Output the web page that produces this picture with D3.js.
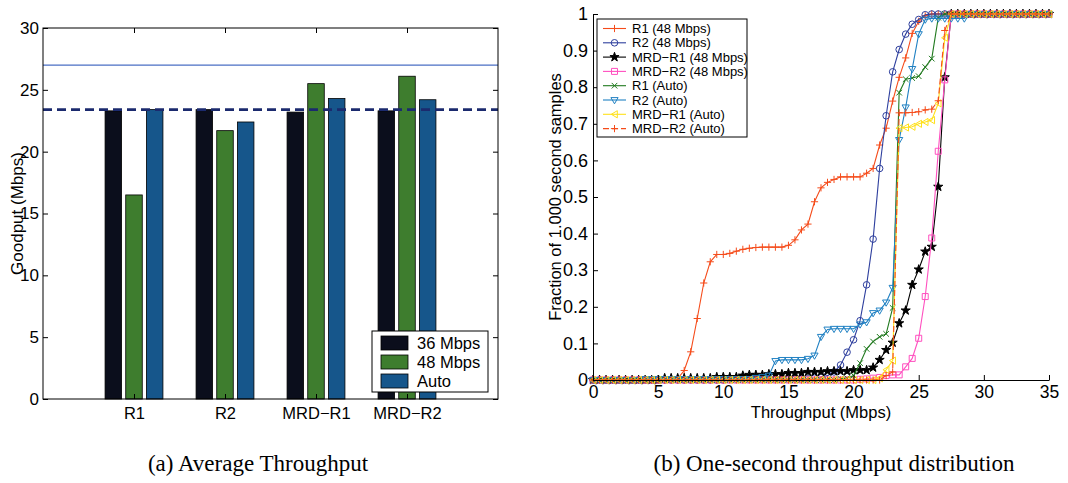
<!DOCTYPE html>
<html><head><meta charset="utf-8">
<script src="https://cdn.jsdelivr.net/npm/d3@7"></script>
<style>body{margin:0;background:#fff} svg{display:block}</style>
</head><body>
<svg id="c" width="1068" height="483"></svg>
<script>
// ---------- Data: (a) Average Throughput ----------
const categories = ["R1", "R2", "MRD\u2212R1", "MRD\u2212R2"];
const rateSeries = ["36 Mbps", "48 Mbps", "Auto"];
const goodput36 = [23.3, 23.4, 23.2, 23.3];
const goodput48 = [16.5, 21.7, 25.5, 26.1];
const goodputAuto = [23.4, 22.4, 24.3, 24.2];
const refSolid = [27.0];
const refDashed = [23.4];
const goodputTicks = [0, 5, 10, 15, 20, 25, 30];

// ---------- Data: (b) One-second throughput distribution ----------
const throughputGrid = d3.range(0, 35.5, 0.5); // 0, 0.5, ..., 35 sample points
const throughputTicks = [0, 5, 10, 15, 20, 25, 30, 35];
const fractionTicks = [0, 0.1, 0.2, 0.3, 0.4, 0.5, 0.6, 0.7, 0.8, 0.9, 1];
const seriesNames = ["R1 (48 Mbps)", "R2 (48 Mbps)", "MRD\u2212R1 (48 Mbps)", "MRD\u2212R2 (48 Mbps)",
  "R1 (Auto)", "R2 (Auto)", "MRD\u2212R1 (Auto)", "MRD\u2212R2 (Auto)"];
const cdfR1_48 = [0,0,0,0,0,0,0,0,0,0,0,0,0,0.004,
  0.026,0.077,0.168,0.265,0.323,0.343,0.343,0.346,0.352,0.357,0.36,0.362,0.363,0.363,0.363,0.363,
  0.368,0.383,0.41,0.426,0.487,0.525,0.54,0.548,0.555,0.555,0.555,0.555,0.565,0.578,0.642,0.688,
  0.762,0.827,0.88,0.947,0.98,0.995,
  1,1,1,1,1,1,1,1,1,1,1,1,1,1,1,1,1,1,1];
const cdfR2_48 = [0,0,0,0,0,0,0,0,0,0,0,0,0,0,0,0,0,0,0,0,0,
  0.003,0.003,0.003,0.003,0.003,0.003,0.003,0.003,0.003,0.003,0.003,0.003,0.003,
  0.005,0.008,0.012,0.022,0.041,0.076,0.11,0.162,0.26,0.385,0.578,0.722,0.842,0.903,0.945,0.972,0.985,0.998,
  1,1,1,1,1,1,1,1,1,1,1,1,1,1,1,1,1,1,1];
const cdfMRDR1_48 = [0,0,0,0,0,0,0,0,0,0,0,
  0.005,0.005,0.005,0.005,0.005,0.005,0.005,0.005,
  0.008,0.008,0.008,0.008,0.012,0.014,0.014,0.014,0.016,0.016,0.016,
  0.019,0.019,0.019,0.022,0.022,0.022,0.024,0.024,0.024,0.024,0.027,0.027,0.027,
  0.034,0.055,0.082,0.102,0.155,0.19,0.26,0.302,0.351,0.364,0.528,0.827,
  1,1,1,1,1,1,1,1,1,1,1,1,1,1,1,1];
const cdfMRDR2_48 = [0,0,0,0,0,0,0,0,0,0,0,0,0,0,0,0,0,0,0,0,0,0,0,0,0,0,0,0,0,0,0,0,0,0,0,0,0,0,0,0,0,
  0.002,0.003,0.005,0.007,0.012,0.014,0.014,0.036,0.059,0.114,0.228,0.388,0.625,0.82,
  1,1,1,1,1,1,1,1,1,1,1,1,1,1,1,1];
const cdfR1_Auto = [0,0,0,0,0,0,0,0,0,0,0,0,0,0,0,0,0,0,0,0,0,0,0,0,0,0,0,0,0,0,0,0,0,0,0,0,0,0,
  0.003,0.005,0.012,0.046,0.085,0.105,0.118,0.126,0.197,0.785,0.822,0.825,0.83,0.855,0.878,0.99,
  1,1,1,1,1,1,1,1,1,1,1,1,1,1,1,1,1];
const cdfR2_Auto = [0,0,0,0,0,0,0,0,
  0.003,0.003,0.003,0.003,0.003,0.003,0.003,0.003,0.003,0.003,0.003,0.003,0.003,0.003,0.003,0.003,0.003,
  0.006,0.008,0.012,0.052,0.055,0.055,0.055,0.055,0.058,0.067,0.118,0.138,0.14,0.14,0.14,0.14,
  0.152,0.158,0.183,0.19,0.212,0.252,0.656,0.745,0.85,0.945,0.985,
  0.988,0.988,0.988,0.988,0.988,0.988,
  1,1,1,1,1,1,1,1,1,1,1,1,1];
const cdfMRDR1_Auto = [0,0,0,0,0,0,0,0,0,0,0,0,0,0,0,0,0,0,0,0,0,0,0,0,0,0,0,0,0,0,0,0,0,0,0,0,0,0,0,0,0,0,0,0,
  0.005,0.028,0.053,0.688,0.69,0.692,0.7,0.705,0.71,0.756,0.935,
  1,1,1,1,1,1,1,1,1,1,1,1,1,1,1,1];
const cdfMRDR2_Auto = [0,0,0,0,0,0,0,0,0,0,0,0,0,0,0,0,0,0,0,0,0,0,0,0,0,0,0,0,0,0,0,0,0,0,0,0,0,0,0,0,0,0,0,0,0,
  0.012,0.022,0.73,0.73,0.731,0.733,0.738,0.74,0.763,0.955,
  1,1,1,1,1,1,1,1,1,1,1,1,1,1,1,1];
const seriesValues = [cdfR1_48, cdfR2_48, cdfMRDR1_48, cdfMRDR2_48, cdfR1_Auto, cdfR2_Auto, cdfMRDR1_Auto, cdfMRDR2_Auto];

// ---------- Styles ----------
const barColors = ["#0b0e1c", "#3e7d2e", "#16568b"];
const seriesColors = ["#f54b1a", "#2e3f9e", "#000000", "#ff4fbf", "#217a1f", "#2081c3", "#ffe11a", "#f54b1a"];
const seriesMarkers = ["plus", "circle", "star", "square", "x", "tdown", "tleft", "plus"];
const seriesDash = [null, null, null, null, null, null, null, "6,3"];
const markerPaths = {
  plus: "M-3.6,0H3.6M0,-3.6V3.6",
  circle: "M3.3,0A3.3,3.3 0 1,1 -3.3,0A3.3,3.3 0 1,1 3.3,0Z",
  star: d3.symbol(d3.symbolStar, 26)(),
  square: "M-3,-3H3V3H-3Z",
  x: "M-2.8,-2.8L2.8,2.8M-2.8,2.8L2.8,-2.8",
  tdown: "M-3.6,-2.4H3.6L0,3.8Z",
  tleft: "M-3.2,0L2.8,-3.6V3.6Z"
};
const SANS = "'Liberation Sans', Arial, Helvetica, sans-serif";
const SERIF = "'Liberation Serif', 'Times New Roman', serif";

const svg = d3.select("#c");

// ================= (a) bar chart =================
const L = {x0: 43, x1: 498, y0: 28, y1: 399};
const xCat = d3.scalePoint().domain(categories).range([L.x0, L.x1]).padding(1);
const xSer = d3.scaleBand().domain(rateSeries).range([-31, 31]).paddingInner(0.2).paddingOuter(0.1);
const yL = d3.scaleLinear().domain([0, 30]).range([L.y1, L.y0]);
const gA = svg.append("g");
const barData = [goodput36, goodput48, goodputAuto];

barData.forEach((vals, k) => {
  gA.append("g").selectAll("rect").data(vals).join("rect")
    .attr("x", (d, i) => xCat(categories[i]) + xSer(rateSeries[k]))
    .attr("width", xSer.bandwidth())
    .attr("y", d => yL(d))
    .attr("height", d => yL(0) - yL(d))
    .attr("fill", barColors[k])
    .attr("stroke", "#000").attr("stroke-width", 0.8);
});

gA.selectAll("line.solid").data(refSolid).join("line")
  .attr("x1", L.x0).attr("x2", L.x1).attr("y1", d => yL(d)).attr("y2", d => yL(d))
  .attr("stroke", "#4a6fc4").attr("stroke-width", 1.3);
gA.selectAll("line.dash").data(refDashed).join("line")
  .attr("x1", L.x0).attr("x2", L.x1).attr("y1", d => yL(d)).attr("y2", d => yL(d))
  .attr("stroke", "#1b2a6e").attr("stroke-width", 2.6).attr("stroke-dasharray", "9,5");

function styleAxis(g, size) {
  g.select(".domain").remove();
  g.selectAll(".tick line").attr("stroke", "#000");
  g.selectAll("text").attr("font-family", SANS).attr("font-size", size).attr("fill", "#000");
}
gA.append("g").attr("transform", `translate(${L.x0},0)`)
  .call(d3.axisLeft(yL).tickValues(goodputTicks).tickSizeInner(-5).tickSizeOuter(0).tickPadding(4))
  .call(g => styleAxis(g, 17));
gA.append("g").attr("transform", `translate(${L.x1},0)`)
  .call(d3.axisRight(yL).tickValues(goodputTicks).tickSizeInner(-5).tickSizeOuter(0).tickFormat(""))
  .call(g => styleAxis(g, 17));
gA.append("g").attr("transform", `translate(0,${L.y1})`)
  .call(d3.axisBottom(xCat).tickSizeInner(-5).tickSizeOuter(0).tickPadding(8))
  .call(g => styleAxis(g, 16.5));
gA.append("g").attr("transform", `translate(0,${L.y0})`)
  .call(d3.axisTop(xCat).tickSizeInner(-5).tickSizeOuter(0).tickFormat(""))
  .call(g => styleAxis(g, 16));
gA.append("rect").attr("x", L.x0).attr("y", L.y0).attr("width", L.x1 - L.x0).attr("height", L.y1 - L.y0)
  .attr("fill", "none").attr("stroke", "#000").attr("stroke-width", 1);

gA.append("text").attr("transform", `translate(17,${(L.y0 + L.y1) / 2}) rotate(-90)`)
  .attr("text-anchor", "middle").attr("dy", "0.35em")
  .attr("font-family", SANS).attr("font-size", 17).text("Goodput (Mbps)");

// legend (a)
const legA = gA.append("g");
legA.append("rect").attr("x", 372).attr("y", 331).attr("width", 116).attr("height", 61)
  .attr("fill", "#fff").attr("stroke", "#000").attr("stroke-width", 1);
rateSeries.forEach((s, k) => {
  const cy = 343 + k * 19;
  legA.append("rect").attr("x", 381).attr("y", cy - 7).attr("width", 27).attr("height", 14)
    .attr("fill", barColors[k]).attr("stroke", "#000").attr("stroke-width", 0.8);
  legA.append("text").attr("x", 417).attr("y", cy).attr("dy", "0.36em")
    .attr("font-family", SANS).attr("font-size", 16.5).text(s);
});

// ================= (b) CDF chart =================
const R = {x0: 593, x1: 1049, y0: 14, y1: 380};
const xR = d3.scaleLinear().domain([0, 35]).range([R.x0, R.x1]);
const yR = d3.scaleLinear().domain([0, 1]).range([R.y1, R.y0]);
const gB = svg.append("g");

function axisStyle2(g, size) {
  g.select(".domain").attr("stroke", "#000");
  g.selectAll(".tick line").attr("stroke", "#000");
  g.selectAll("text").attr("font-family", SANS).attr("font-size", size).attr("fill", "#000");
}

const line = d3.line().x((d, i) => xR(throughputGrid[i])).y(d => yR(d));
seriesValues.forEach((vals, k) => {
  const g = gB.append("g");
  g.append("path").datum(vals).attr("d", line).attr("fill", "none")
    .attr("stroke", seriesColors[k]).attr("stroke-width", 1.1)
    .attr("stroke-dasharray", seriesDash[k]);
  const isStar = seriesMarkers[k] === "star";
  g.selectAll("path.m").data(vals).join("path").attr("class", "m")
    .attr("transform", (d, i) => `translate(${xR(throughputGrid[i])},${yR(d)})`)
    .attr("d", markerPaths[seriesMarkers[k]])
    .attr("fill", isStar ? seriesColors[k] : "none")
    .attr("stroke", seriesColors[k]).attr("stroke-width", 1);
});

gB.append("g").attr("transform", `translate(0,${R.y1})`)
  .call(d3.axisBottom(xR).tickValues(throughputTicks).tickSizeInner(-5).tickSizeOuter(0).tickPadding(6))
  .call(g => axisStyle2(g, 17.5));
gB.append("g").attr("transform", `translate(${R.x0},0)`)
  .call(d3.axisLeft(yR).tickValues(fractionTicks).tickSizeInner(-5).tickSizeOuter(0).tickPadding(5).tickFormat(d3.format("~g")))
  .call(g => axisStyle2(g, 18));

gB.append("text").attr("x", (R.x0 + R.x1) / 2).attr("y", 418).attr("text-anchor", "middle")
  .attr("font-family", SANS).attr("font-size", 16.5).text("Throughput (Mbps)");
gB.append("text").attr("transform", `translate(555,${(R.y0 + R.y1) / 2}) rotate(-90)`)
  .attr("text-anchor", "middle").attr("dy", "0.35em")
  .attr("font-family", SANS).attr("font-size", 16.5).text("Fraction of 1.000 second samples");

// legend (b)
const legB = gB.append("g");
legB.append("rect").attr("x", 597).attr("y", 19).attr("width", 150).attr("height", 118)
  .attr("fill", "#fff").attr("stroke", "#000").attr("stroke-width", 1);
seriesNames.forEach((s, k) => {
  const cy = 28.5 + k * 14.3;
  legB.append("line").attr("x1", 603).attr("x2", 626).attr("y1", cy).attr("y2", cy)
    .attr("stroke", seriesColors[k]).attr("stroke-width", 1.1).attr("stroke-dasharray", seriesDash[k]);
  legB.append("path").attr("transform", `translate(614.5,${cy})`).attr("d", markerPaths[seriesMarkers[k]])
    .attr("fill", seriesMarkers[k] === "star" ? seriesColors[k] : "none")
    .attr("stroke", seriesColors[k]).attr("stroke-width", 1);
  legB.append("text").attr("x", 632).attr("y", cy).attr("dy", "0.36em")
    .attr("font-family", SANS).attr("font-size", 13).text(s);
});

// ================= captions =================
svg.append("text").attr("x", 258).attr("y", 471).attr("text-anchor", "middle")
  .attr("font-family", SERIF).attr("font-size", 23).text("(a) Average Throughput");
svg.append("text").attr("x", 834).attr("y", 471).attr("text-anchor", "middle")
  .attr("font-family", SERIF).attr("font-size", 23).text("(b) One-second throughput distribution");
</script></body></html>
